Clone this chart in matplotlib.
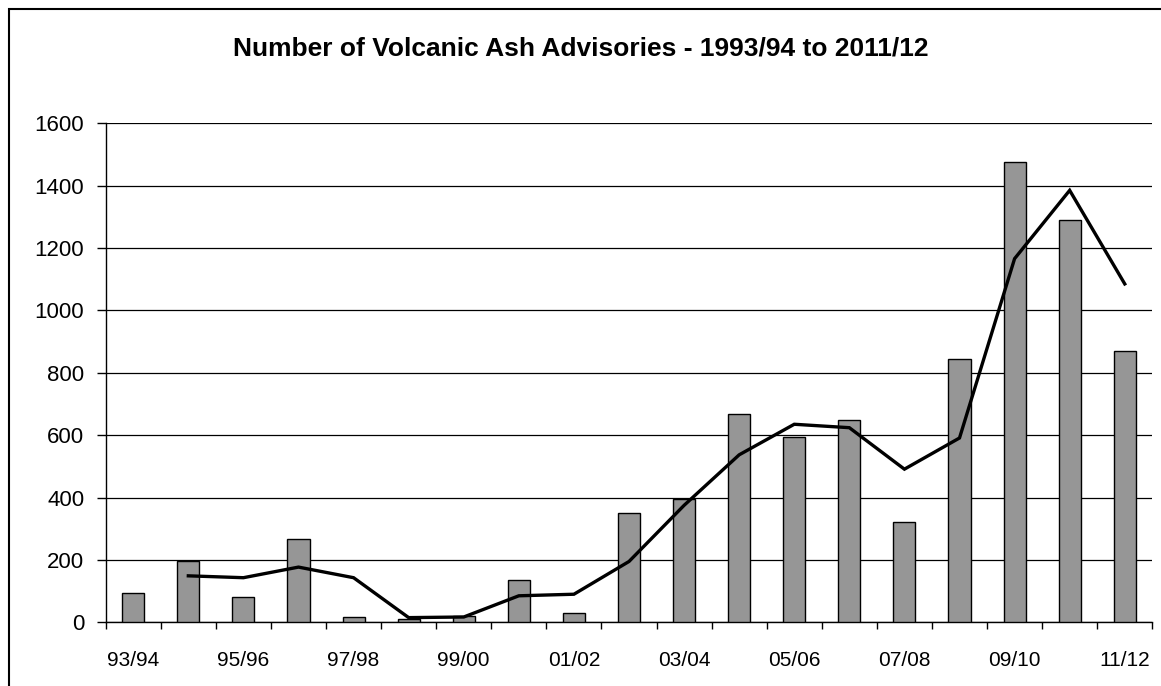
import matplotlib
matplotlib.use("Agg")
import matplotlib.pyplot as plt
from matplotlib.patches import Rectangle
from matplotlib.ticker import FixedLocator, NullFormatter

plt.rcParams["font.family"] = ["Liberation Sans", "DejaVu Sans"]

# Financial years
seasons = ["93/94", "94/95", "95/96", "96/97", "97/98", "98/99", "99/00",
           "00/01", "01/02", "02/03", "03/04", "04/05", "05/06", "06/07",
           "07/08", "08/09", "09/10", "10/11", "11/12"]

# Advisories issued per year
advisories = [93, 198, 82, 268, 17, 11, 20, 136, 31, 350, 394, 669, 593,
              648, 322, 843, 1475, 1289, 871]

# Two-year moving average (first point at 94/95)
trend_start = 1
trend = [149, 143, 177, 143, 15, 17, 85, 90, 195, 375, 537, 635, 624,
         491, 591, 1166, 1385, 1085]

W, H, DPI = 1161, 686, 100
fig = plt.figure(figsize=(W / DPI, H / DPI), dpi=DPI)
fig.patch.set_facecolor("white")

# Chart area border
fig.patches.append(Rectangle((9 / W, -0.2), 1.2, 1.2 - 9 / H + 0.0,
                             transform=fig.transFigure, fill=False,
                             edgecolor="black", linewidth=1.5))

left, right = 105.7 / W, 1152.3 / W
bottom, top = 1 - 622.3 / H, 1 - 123.3 / H
ax = fig.add_axes([left, bottom, right - left, top - bottom])

x = list(range(len(seasons)))
ax.bar(x, advisories, width=0.4, color="#969696", edgecolor="black",
       linewidth=1.0, zorder=3)
ax.plot(x[trend_start:], trend, color="black", linewidth=2.4, zorder=4,
        solid_joinstyle="miter")

ax.set_xlim(-0.5, len(seasons) - 0.5)
ax.set_ylim(0, 1600)
ax.set_yticks(range(0, 1601, 200))
ax.yaxis.grid(True, color="black", linewidth=0.9, zorder=0)
ax.set_axisbelow(True)

# Tick marks between categories, labels on every second year
ax.xaxis.set_minor_locator(FixedLocator([i - 0.5 for i in range(len(seasons) + 1)]))
ax.xaxis.set_minor_formatter(NullFormatter())
ax.set_xticks(x[::2])
ax.set_xticklabels(seasons[::2], fontsize=15)
ax.tick_params(axis="x", which="major", length=0, pad=21)
ax.tick_params(axis="x", which="minor", length=5, width=1.0, direction="out")
ax.tick_params(axis="y", length=6.5, width=1.0, direction="out", pad=9,
               labelsize=16)

for side in ("top", "right"):
    ax.spines[side].set_visible(False)
for side in ("left", "bottom"):
    ax.spines[side].set_color("black")
    ax.spines[side].set_linewidth(1.0)

fig.text(0.5, 1 - 49 / H, "Number of Volcanic Ash Advisories - 1993/94 to 2011/12",
         ha="center", va="center", fontsize=19, fontweight="bold")

fig.savefig("out.png", dpi=DPI, facecolor="white")
